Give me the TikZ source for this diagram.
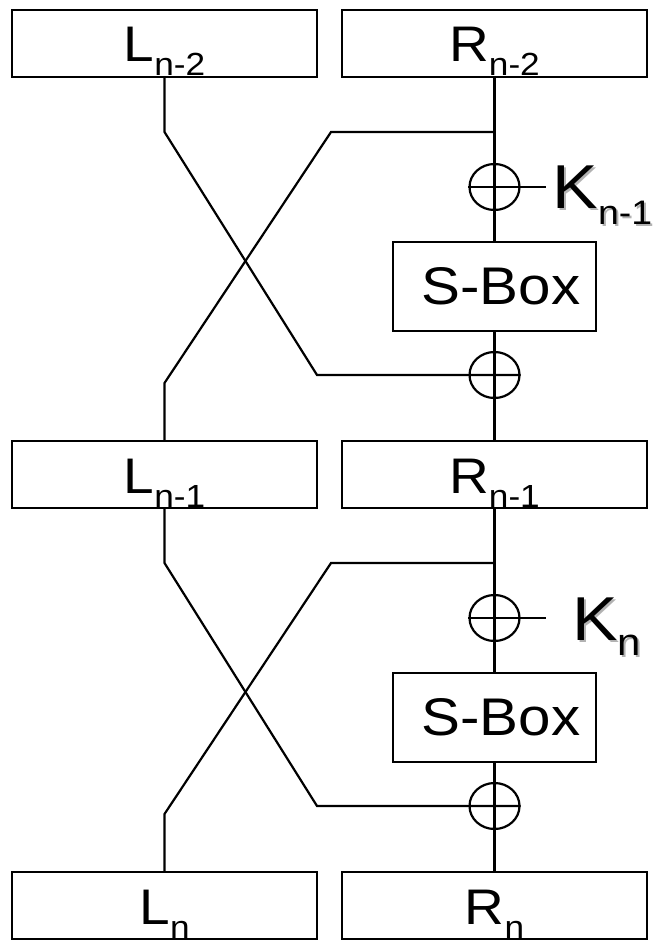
\documentclass[tikz,border=0pt]{standalone}
\usepackage{fontspec}
\setmainfont{Liberation Sans}[FakeStretch=1.1]
\usetikzlibrary{shapes.geometric}
\newcommand{\blabel}[2]{#1\raisebox{-14pt}{\fontsize{32}{32}\selectfont #2}}
\newcommand{\klabel}[3]{K\raisebox{-#3}{\fontsize{#2}{#2}\selectfont #1}}

\begin{document}
\begin{tikzpicture}[x=1pt, y=-1pt, line width=2.2pt,
  half/.style={draw, minimum width=305pt, minimum height=67pt, inner ysep=0pt,
               text height=52pt, text depth=15pt, font=\fontsize{50}{50}\selectfont},
  sbox/.style={draw, fill=white, minimum width=203pt, minimum height=89pt,
               inner sep=0pt, font=\fontsize{53}{53}\selectfont},
  xorc/.style={draw, ellipse, minimum width=50pt, minimum height=46pt, inner sep=0pt},
  keylbl/.style={anchor=west, inner ysep=0pt, text height=44pt, text depth=0pt,
                 font=\fontsize{62}{62}\selectfont}]

\useasboundingbox (0,0) rectangle (668,941);

% left and right halves
\foreach \i/\n in {0/n-2, 1/n-1, 2/n} {
  \node[half] (L\i) at (164.5,{43.5+431*\i}) {\blabel{L}{\n}};
  \node[half] (R\i) at (494.5,{43.5+431*\i}) {\blabel{R}{\n}};
}

% two rounds
\foreach \i/\j/\ks/\kz/\kd/\kp in {0/1/n-1/34/16pt/6pt, 1/2/n/38/15pt/25.5pt} {
  \pgfmathsetmacro\o{431*\i}
  \node[xorc] (xa\i) at (494.5,{187+\o}) {};
  \node[sbox] (sb\i) at (494.5,{286.5+\o}) {\hspace*{13pt}S-Box};
  \node[xorc] (xb\i) at (494.5,{375+\o}) {};
  \node[keylbl, text=black!30, inner xsep=\kp] (ks\i)
        at ([xshift=27pt, yshift=-2pt]xa\i.east) {\klabel{\ks}{\kz}{\kd}};
  \node[keylbl, inner xsep=\kp] (k\i)
        at ([xshift=25pt]xa\i.east) {\klabel{\ks}{\kz}{\kd}};

  \coordinate (sp\i) at (494.5,{132+\o});
  \coordinate (lt\i) at (164.5,{132+\o});
  \coordinate (lb\i) at (317,{375+\o});
  \coordinate (rt\i) at (331,{132+\o});
  \coordinate (rb\i) at (164.5,{383+\o});

  \draw (R\i.south) -- (xa\i.south) -- (sb\i.north);
  \draw (sb\i.south) -- (R\j.north);
  \draw (xa\i.west) -- (k\i.west);
  \draw (L\i.south) -- (lt\i) -- (lb\i) -- (xb\i.east);
  \draw (sp\i) -- (rt\i) -- (rb\i) -- (L\j.north);
}
\end{tikzpicture}
\end{document}
